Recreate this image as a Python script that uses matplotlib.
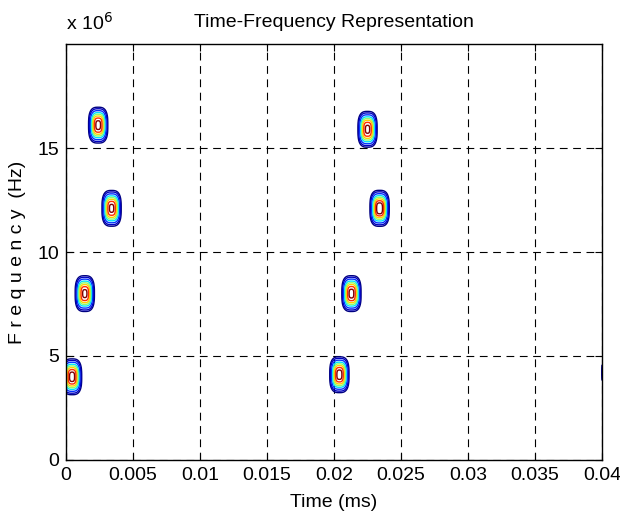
import numpy as np
import matplotlib
matplotlib.use("Agg")
import matplotlib.pyplot as plt
from matplotlib.ticker import FuncFormatter

plt.rcParams['font.family'] = ['Liberation Sans', 'DejaVu Sans']

# Chirp components: time (ms), frequency (Hz), relative energy
comp_time = [0.00045, 0.0014, 0.0024, 0.0034,
             0.0204, 0.0213, 0.0225, 0.0234, 0.0407]
comp_freq = [4.0e6, 8.0e6, 16.1e6, 12.1e6,
             4.1e6, 8.0e6, 15.9e6, 12.1e6, 4.2e6]
comp_amp = [0.97, 0.95, 0.96, 0.95, 0.97, 0.96, 0.95, 1.0, 1.0]

x_ticks = [0, 0.005, 0.01, 0.015, 0.02, 0.025, 0.03, 0.035, 0.04]
x_tick_labels = ['0', '0.005', '0.01', '0.015', '0.02', '0.025',
                 '0.03', '0.035', '0.04']
y_ticks = [0, 5e6, 10e6, 15e6]

# Time-frequency energy surface
t = np.linspace(0, 0.04, 900)
f = np.linspace(0, 2e7, 900)
T, F = np.meshgrid(t, f)
Z = np.zeros_like(T)
half_w, half_h, p = 0.00050, 0.60e6, 3.0
for tc, fc, a in zip(comp_time, comp_freq, comp_amp):
    Z += a * np.exp(-(np.abs(T - tc) / half_w) ** p
                    - (np.abs(F - fc) / half_h) ** p)

fig = plt.figure(figsize=(6.2, 5.26), dpi=100)
ax = fig.add_axes([0.1065, 0.1255, 0.8645, 0.7908])

levels = [0.05, 0.1, 0.2, 0.35, 0.5, 0.65, 0.8, 0.92]
ax.contour(T, F, Z, levels=levels, cmap='jet', linewidths=1.0)

ax.set_xlim(0, 0.04)
ax.set_ylim(0, 2e7)
ax.set_xticks(x_ticks)
ax.set_xticklabels(x_tick_labels)
ax.set_yticks(y_ticks)
ax.yaxis.set_major_formatter(FuncFormatter(lambda v, pos: f'{v / 1e6:g}'))

ax.tick_params(direction='in', length=5, width=0.8, top=True, right=True,
               labelsize=14, colors='black', pad=5)
for s in ax.spines.values():
    s.set_linewidth(1.0)
    s.set_color('black')

ax.grid(True, color='black', linewidth=0.8, linestyle=(0, (7, 5)))

ax.set_title('Time-Frequency Representation', fontsize=14, pad=12)
ax.set_xlabel('Time (ms)', fontsize=14, labelpad=7)
ax.set_ylabel('F r e q u e n c y  (Hz)', fontsize=14, labelpad=8)
ax.text(0.0, 1.025, r'x 10$^{6}$', transform=ax.transAxes,
        fontsize=14, ha='left', va='bottom')

fig.savefig('out.png', dpi=100)
